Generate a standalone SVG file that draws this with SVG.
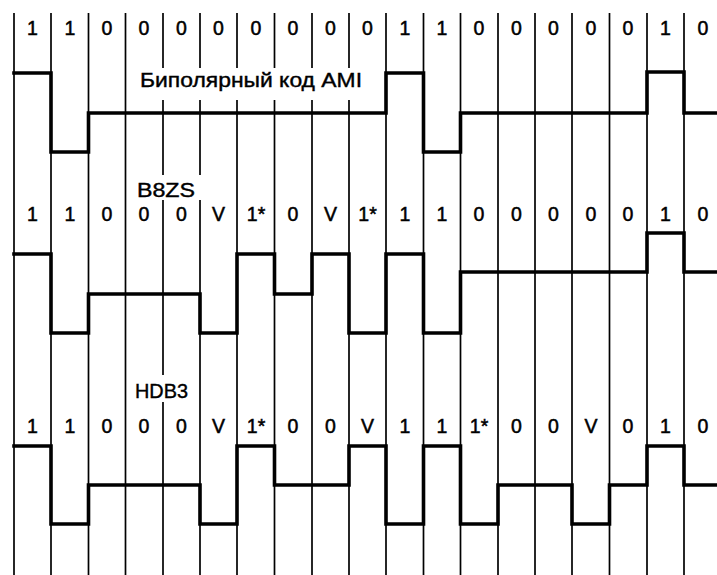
<svg xmlns="http://www.w3.org/2000/svg" width="717" height="575" viewBox="0 0 717 575">
  <style>
    .grid line { stroke: #000; stroke-width: 1.7; }
    .wave { fill: none; stroke: #000; stroke-width: 3.6; stroke-linejoin: miter; stroke-linecap: square; }
    .lbl { font-family: "Liberation Sans", Arial, sans-serif; font-size: 19.5px; fill: #000; stroke: #000; stroke-width: 0.5; text-anchor: middle; }
    .ttl { font-family: "Liberation Sans", Arial, sans-serif; font-size: 20px; fill: #000; stroke: #000; stroke-width: 0.4; }
    .mask { fill: #fff; stroke: none; }
  </style>
  <rect x="0" y="0" width="717" height="575" fill="#fff"/>

  <g id="grid" class="grid">
    <line x1="14" y1="13" x2="14" y2="575"/>
    <line x1="51" y1="13" x2="51" y2="575"/>
    <line x1="88.5" y1="13" x2="88.5" y2="575"/>
    <line x1="125.5" y1="13" x2="125.5" y2="575"/>
    <line x1="163" y1="13" x2="163" y2="575"/>
    <line x1="200" y1="13" x2="200" y2="575"/>
    <line x1="237" y1="13" x2="237" y2="575"/>
    <line x1="274.5" y1="13" x2="274.5" y2="575"/>
    <line x1="312" y1="13" x2="312" y2="575"/>
    <line x1="349" y1="13" x2="349" y2="575"/>
    <line x1="386" y1="13" x2="386" y2="575"/>
    <line x1="423.5" y1="13" x2="423.5" y2="575"/>
    <line x1="460.5" y1="13" x2="460.5" y2="575"/>
    <line x1="498" y1="13" x2="498" y2="575"/>
    <line x1="535" y1="13" x2="535" y2="575"/>
    <line x1="572" y1="13" x2="572" y2="575"/>
    <line x1="609.5" y1="13" x2="609.5" y2="575"/>
    <line x1="647" y1="13" x2="647" y2="575"/>
    <line x1="684" y1="13" x2="684" y2="575"/>
  </g>

  <g id="ami">
    <rect class="mask" x="129" y="68" width="255" height="32"/>
    <text class="ttl" x="140" y="87" textLength="222" lengthAdjust="spacingAndGlyphs">Биполярный код AMI</text>
    <g class="lbl">
      <text x="32.5" y="35">1</text>
      <text x="70" y="35">1</text>
      <text x="107" y="35">0</text>
      <text x="144" y="35">0</text>
      <text x="181.5" y="35">0</text>
      <text x="218.5" y="35">0</text>
      <text x="256" y="35">0</text>
      <text x="293" y="35">0</text>
      <text x="330.5" y="35">0</text>
      <text x="367.5" y="35">0</text>
      <text x="405" y="35">1</text>
      <text x="442" y="35">1</text>
      <text x="479" y="35">0</text>
      <text x="516.5" y="35">0</text>
      <text x="553.5" y="35">0</text>
      <text x="591" y="35">0</text>
      <text x="628" y="35">0</text>
      <text x="665.5" y="35">1</text>
      <text x="703" y="35">0</text>
    </g>
    <path class="wave" d="M14,73 H51 V152 H88.5 V113 H386 V73 H423.5 V152 H460.5 V113 H647 V72 H684 V113 H719"/>
  </g>

  <g id="b8zs">
    <rect class="mask" x="130" y="175" width="73" height="25"/>
    <text class="ttl" x="137" y="197" textLength="58" lengthAdjust="spacingAndGlyphs">B8ZS</text>
    <g class="lbl">
      <text x="32.5" y="221">1</text>
      <text x="70" y="221">1</text>
      <text x="107" y="221">0</text>
      <text x="144" y="221">0</text>
      <text x="181.5" y="221">0</text>
      <text x="218.5" y="221">V</text>
      <text x="256" y="221">1*</text>
      <text x="293" y="221">0</text>
      <text x="330.5" y="221">V</text>
      <text x="367.5" y="221">1*</text>
      <text x="405" y="221">1</text>
      <text x="442" y="221">1</text>
      <text x="479" y="221">0</text>
      <text x="516.5" y="221">0</text>
      <text x="553.5" y="221">0</text>
      <text x="591" y="221">0</text>
      <text x="628" y="221">0</text>
      <text x="665.5" y="221">1</text>
      <text x="703" y="221">0</text>
    </g>
    <path class="wave" d="M14,254 H51 V333 H88.5 V294 H200 V333 H237 V254 H274.5 V294 H312 V254 H349 V333 H386 V254 H423.5 V333 H460.5 V272 H647 V233 H684 V272 H719"/>
  </g>

  <g id="hdb3">
    <rect class="mask" x="130" y="375" width="67" height="27"/>
    <text class="ttl" x="135" y="398" textLength="53" lengthAdjust="spacingAndGlyphs">HDB3</text>
    <g class="lbl">
      <text x="32.5" y="433">1</text>
      <text x="70" y="433">1</text>
      <text x="107" y="433">0</text>
      <text x="144" y="433">0</text>
      <text x="181.5" y="433">0</text>
      <text x="218.5" y="433">V</text>
      <text x="256" y="433">1*</text>
      <text x="293" y="433">0</text>
      <text x="330.5" y="433">0</text>
      <text x="367.5" y="433">V</text>
      <text x="405" y="433">1</text>
      <text x="442" y="433">1</text>
      <text x="479" y="433">1*</text>
      <text x="516.5" y="433">0</text>
      <text x="553.5" y="433">0</text>
      <text x="591" y="433">V</text>
      <text x="628" y="433">0</text>
      <text x="665.5" y="433">1</text>
      <text x="703" y="433">0</text>
    </g>
    <path class="wave" d="M14,446 H51 V524 H88.5 V485 H200 V524 H237 V446 H274.5 V485 H349 V446 H386 V524 H423.5 V446 H460.5 V524 H498 V485 H572 V524 H609.5 V485 H647 V446 H684 V485 H719"/>
  </g>
</svg>
